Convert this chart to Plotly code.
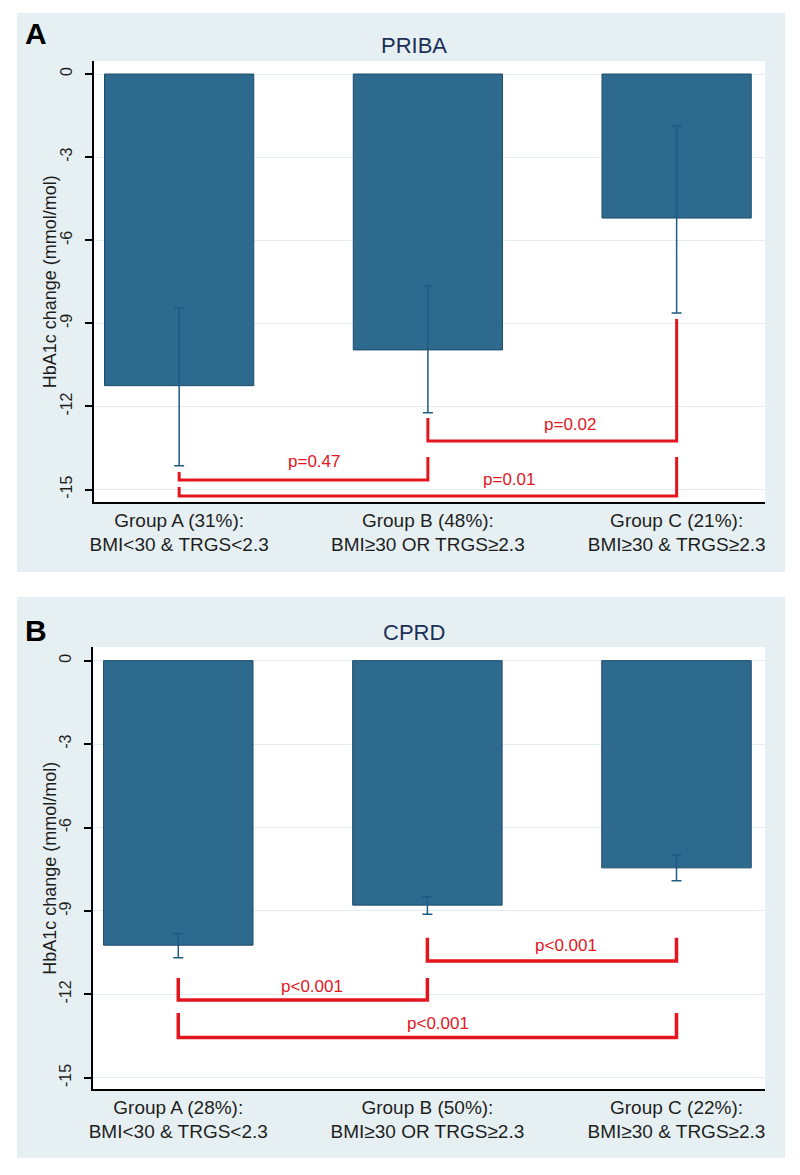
import plotly.graph_objects as go

# ---------------- data ----------------
categories_priba = ["Group A (31%):<br>BMI&lt;30 &amp; TRGS&lt;2.3",
                    "Group B (48%):<br>BMI≥30 OR TRGS≥2.3",
                    "Group C (21%):<br>BMI≥30 &amp; TRGS≥2.3"]
categories_cprd = ["Group A (28%):<br>BMI&lt;30 &amp; TRGS&lt;2.3",
                   "Group B (50%):<br>BMI≥30 OR TRGS≥2.3",
                   "Group C (22%):<br>BMI≥30 &amp; TRGS≥2.3"]

priba_mean = [-11.25, -9.96, -5.2]
priba_err_plus = [2.79, 2.32, 3.32]
priba_err_minus = [2.89, 2.27, 3.43]

cprd_mean = [-10.23, -8.79, -7.45]
cprd_err_plus = [0.42, 0.30, 0.46]
cprd_err_minus = [0.45, 0.33, 0.46]

y_ticks = [0, -3, -6, -9, -12, -15]

# comparison brackets: (left group, right group, left top, level, right top, label, label x, label y)
priba_brackets = [
    (0, 1, -14.37, -14.66, -13.83, "p=0.47", 0.544, -14.0),
    (1, 2, -12.42, -13.25, -8.84, "p=0.02", 1.572, -12.64),
    (0, 2, -14.91, -15.23, -13.83, "p=0.01", 1.328, -14.62),
]
cprd_brackets = [
    (0, 1, -11.41, -12.2, -11.41, "p<0.001", 0.536, -11.7),
    (1, 2, -9.96, -10.8, -9.96, "p<0.001", 1.556, -10.23),
    (0, 2, -12.67, -13.55, -12.67, "p<0.001", 1.044, -13.04),
]

panel_titles = ["PRIBA", "CPRD"]
panel_letters = ["A", "B"]
y_title = "HbA1c change (mmol/mol)"

# ---------------- styling ----------------
OFF = 8  # default page body margin
W, H = 800 - OFF, 1175 - OFF
FONT = "Liberation Sans, Arial, Helvetica, sans-serif"
BAR = "#2e6a8e"
BAR_LINE = "#1d4c6d"
ERR = "#1f5a82"
RED = "#e3161e"
PANEL_BG = "#e6f0f2"
GRID = "#e1edf1"
TITLE_C = "#1b2f58"
TXT = "#1e1e1e"


def px(x):
    return (x - OFF) / W


def py(y):
    return 1 - (y - OFF) / H


fig = go.Figure()

panels = [
    dict(means=priba_mean, ep=priba_err_plus, em=priba_err_minus, cats=categories_priba,
         br=priba_brackets, xa="x", ya="y", top=61, bottom=502, left=90, right=765,
         yrange=[-15.45, 0.47], bg=(13, 13, 785, 572), title_y=45, letter_y=33, bw=3),
    dict(means=cprd_mean, ep=cprd_err_plus, em=cprd_err_minus, cats=categories_cprd,
         br=cprd_brackets, xa="x2", ya="y2", top=647, bottom=1089, left=89, right=765,
         yrange=[-15.4, 0.49], bg=(13, 597, 785, 1158), title_y=632, letter_y=630, bw=3.5),
]

shapes = []
annotations = []
for i, p in enumerate(panels):
    fig.add_trace(go.Bar(
        x=[0, 1, 2], y=p["means"], width=0.6,
        marker=dict(color=BAR, line=dict(color=BAR_LINE, width=1)),
        error_y=dict(type="data", symmetric=False, array=p["ep"], arrayminus=p["em"],
                     color=ERR, thickness=1.5, width=5),
        xaxis=p["xa"], yaxis=p["ya"], showlegend=False, hoverinfo="skip"))
    for (a, b, lt, lv, rt, lab, lx, ly) in p["br"]:
        fig.add_trace(go.Scatter(
            x=[a, a, b, b], y=[lt, lv, lv, rt], mode="lines",
            line=dict(color=RED, width=p["bw"]), xaxis=p["xa"], yaxis=p["ya"],
            showlegend=False, hoverinfo="skip"))
        annotations.append(dict(x=lx, y=ly, xref=p["xa"], yref=p["ya"], text=lab,
                                showarrow=False, font=dict(family=FONT, size=17, color=RED),
                                xanchor="center", yanchor="middle"))
    x0, y0, x1, y1 = p["bg"]
    shapes.append(dict(type="rect", xref="paper", yref="paper", x0=px(x0), x1=px(x1),
                       y0=py(y1), y1=py(y0), fillcolor=PANEL_BG, line=dict(width=0),
                       layer="below"))
    shapes.append(dict(type="rect", xref="paper", yref="paper", x0=px(p["left"]),
                       x1=px(p["right"]), y0=py(p["bottom"]), y1=py(p["top"]),
                       fillcolor="white", line=dict(width=0), layer="below"))
    annotations.append(dict(x=px(412), y=py(p["title_y"]), xref="paper", yref="paper",
                            text=panel_titles[i], showarrow=False,
                            font=dict(family=FONT, size=22, color=TITLE_C),
                            xanchor="center", yanchor="middle"))
    annotations.append(dict(x=px(32), y=py(p["letter_y"]), xref="paper", yref="paper",
                            text="<b>%s</b>" % panel_letters[i], showarrow=False,
                            font=dict(family=FONT, size=30, color="black"),
                            xanchor="center", yanchor="middle"))
    annotations.append(dict(x=px(46), y=py((p["top"] + p["bottom"]) / 2), xref="paper",
                            yref="paper", text=y_title, textangle=-90, showarrow=False,
                            font=dict(family=FONT, size=18, color=TXT),
                            xanchor="center", yanchor="middle"))

    xkey = "xaxis" if i == 0 else "xaxis2"
    ykey = "yaxis" if i == 0 else "yaxis2"
    fig.update_layout(**{
        xkey: dict(domain=[px(p["left"]), px(p["right"])], range=[-0.344, 2.356],
                   tickvals=[0, 1, 2], ticktext=p["cats"], showline=True, linecolor="black",
                   linewidth=1.5, ticks="", showgrid=False, zeroline=False,
                   tickfont=dict(family=FONT, size=19, color=TXT),
                   anchor=p["ya"], fixedrange=True),
        ykey: dict(domain=[py(p["bottom"]), py(p["top"])], range=p["yrange"],
                   tickvals=y_ticks, ticktext=[str(v) for v in y_ticks], tickangle=-90,
                   ticks="outside", ticklen=7, tickwidth=1.5, tickcolor="black",
                   ticklabelstandoff=6,
                   showline=True, linecolor="black", linewidth=1.5,
                   showgrid=True, gridcolor=GRID, gridwidth=1, zeroline=False,
                   tickfont=dict(family=FONT, size=16, color=TXT),
                   anchor=p["xa"], fixedrange=True),
    })

fig.update_layout(
    width=W, height=H, margin=dict(l=0, r=0, t=0, b=0),
    paper_bgcolor="white", plot_bgcolor="white",
    shapes=shapes, annotations=annotations, showlegend=False,
    font=dict(family=FONT),
)

fig.write_html("out.html")
